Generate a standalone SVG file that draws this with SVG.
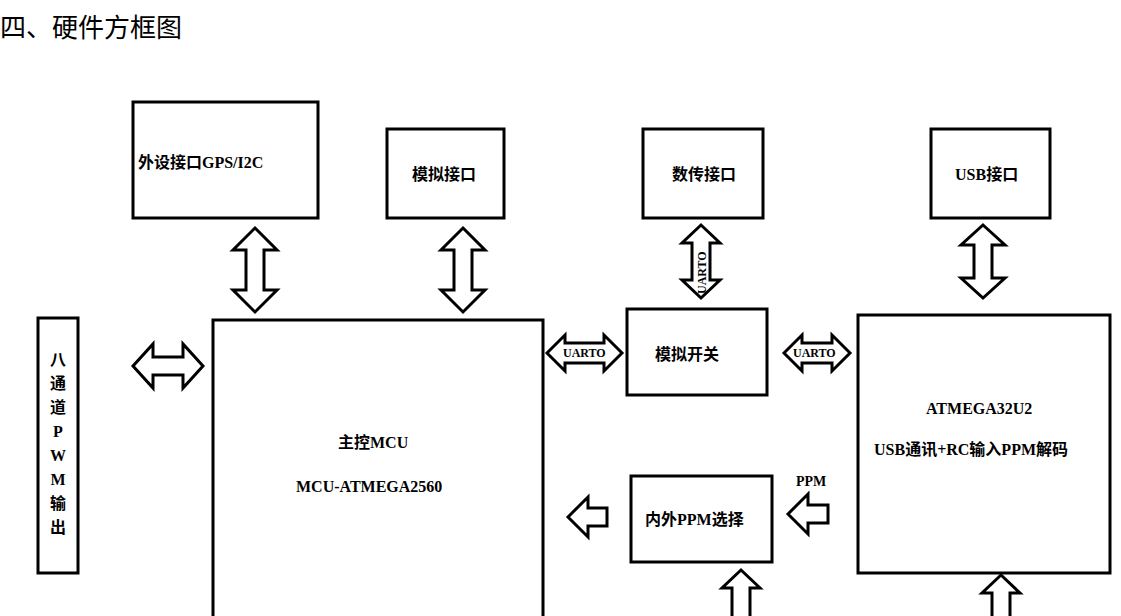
<svg xmlns="http://www.w3.org/2000/svg" width="1121" height="616" viewBox="0 0 1121 616">
<style>
.b{fill:#fff;stroke:#000;stroke-width:3}
.a{fill:#fff;stroke:#000;stroke-width:3;stroke-linejoin:miter}
text{font-family:"Liberation Serif","Noto Sans CJK SC",serif;font-weight:bold;font-size:16px;fill:#000}
.t{font-family:"Noto Sans CJK SC",sans-serif;font-weight:normal;font-size:26px}
.s{font-size:12px}
</style>
<rect width="1121" height="616" fill="#fff"/>
<text class="t" x="0" y="37">四、硬件方框图</text>
<g id="gps"><rect class="b" x="133" y="102" width="185" height="116"/><text x="138" y="168">外设接口GPS/I2C</text></g>
<g id="analog"><rect class="b" x="387" y="129" width="117" height="89"/><text x="412" y="180">模拟接口</text></g>
<g id="datalink"><rect class="b" x="643" y="129" width="120" height="89"/><text x="672" y="180">数传接口</text></g>
<g id="usb"><rect class="b" x="931" y="129" width="119" height="89"/><text x="955" y="180">USB接口</text></g>
<g id="pwm"><rect class="b" x="38" y="318" width="40" height="255"/>
<text x="58" y="365" text-anchor="middle">八</text><text x="58" y="389" text-anchor="middle">通</text><text x="58" y="413" text-anchor="middle">道</text><text x="58" y="437" text-anchor="middle">P</text><text x="58" y="461" text-anchor="middle">W</text><text x="58" y="485" text-anchor="middle">M</text><text x="58" y="509" text-anchor="middle">输</text><text x="58" y="533" text-anchor="middle">出</text></g>
<g id="mcu"><rect class="b" x="213" y="320" width="330" height="310"/><text x="338" y="448">主控MCU</text><text x="296" y="492">MCU-ATMEGA2560</text></g>
<g id="switch"><rect class="b" x="627" y="309" width="140" height="86"/><text x="655" y="360">模拟开关</text></g>
<g id="atmega32"><rect class="b" x="858" y="315" width="252" height="258"/><text x="926" y="414">ATMEGA32U2</text><text x="874" y="455">USB通讯+RC输入PPM解码</text></g>
<g id="ppmsel"><rect class="b" x="631" y="476" width="141" height="86"/><text x="645" y="525">内外PPM选择</text></g>
<g id="connectors">
<polygon class="a" points="255,228 277,250 264,250 264,290 277,290 255,312 233,290 246,290 246,250 233,250"/>
<polygon class="a" points="463,228 485,250 472,250 472,290 485,290 463,312 441,290 454,290 454,250 441,250"/>
<polygon class="a" points="701,225 720,243 710,243 710,280 720,280 701,298 682,280 692,280 692,243 682,243"/>
<text class="s" transform="translate(706,294) rotate(-90)">UARTO</text>
<polygon class="a" points="547,353 565,335 565,343 604,343 604,335 622,353 604,371 604,363 565,363 565,371"/>
<text class="s" x="563" y="357">UARTO</text>
<polygon class="a" points="784,353 802,335 802,343 832,343 832,335 850,353 832,371 832,363 802,363 802,371"/>
<text class="s" x="793" y="357">UARTO</text>
<polygon class="a" points="983,225 1005,245 992,245 992,278 1005,278 983,298 961,278 974,278 974,245 961,245"/>
<polygon class="a" points="133,366 153,344 153,357 183,357 183,344 203,366 183,388 183,375 153,375 153,388"/>
<polygon class="a" points="568,517 588,497 588,508 607,508 607,526 588,526 588,537"/>
<polygon class="a" points="788,514 808,494 808,505 828,505 828,523 808,523 808,534"/>
<text x="796" y="486" style="font-size:14px">PPM</text>
<polygon class="a" points="741,570 760,588 750,588 750,618 732,618 732,588 722,588"/>
<polygon class="a" points="1001,575 1020,593 1010,593 1010,618 992,618 992,593 982,593"/>
</g>
</svg>
